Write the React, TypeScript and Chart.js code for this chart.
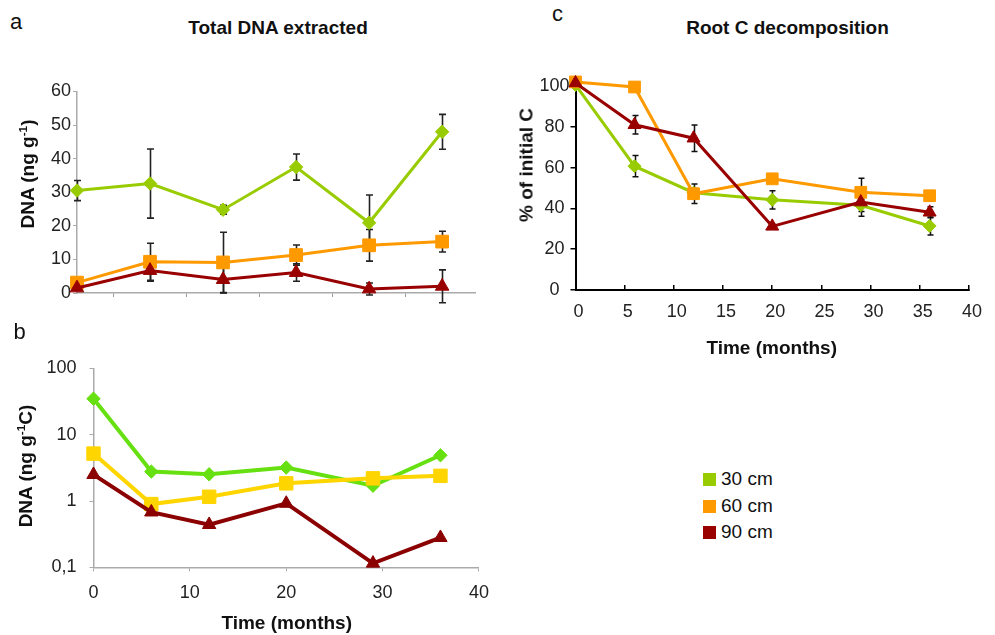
import React, { useEffect, useRef } from 'react';
import { Chart, registerables } from 'chart.js';

Chart.register(...registerables);

// ---------- data ----------
const months = [0, 6, 12, 20, 29, 36];
const seriesLabels = ['30 cm', '60 cm', '90 cm'];

// Panel a: Total DNA extracted (ng g-1), categories evenly spaced
const dnaA30 = [30.5, 32.6, 24.8, 37.5, 20.9, 48.0];
const dnaA60 = [3.1, 9.3, 9.1, 11.3, 14.2, 15.3];
const dnaA90 = [1.5, 6.7, 4.0, 6.1, 1.2, 2.0];
const errA30 = [3.0, 10.3, 1.3, 3.9, 8.3, 5.2];
const errA60 = [0.5, 5.5, 9.0, 3.0, 4.7, 3.1];
const errA90 = [0.5, 3.2, 4.0, 2.6, 1.8, 4.9];

// Panel b: DNA (ng g-1 C), log scale
const dnaB30 = [35, 2.78, 2.53, 3.2, 1.7, 4.9];
const dnaB60 = [5.2, 0.9, 1.16, 1.85, 2.2, 2.4];
const dnaB90 = [2.5, 0.68, 0.44, 0.92, 0.115, 0.28];
const yTicksB = [0.1, 1, 10, 100];
const yTickLabelsB = ['0,1', '1', '10', '100'];

// Panel c: Root C decomposition (% of initial C)
const rootC30 = [100.5, 60.7, 47.7, 44.2, 41.5, 31.4];
const rootC60 = [102, 99.5, 47.2, 54.5, 47.9, 46.2];
const rootC90 = [101.5, 81, 74.4, 31.2, 43.1, 38.1];
const errC30 = [0, 5.2, 2, 4.5, 3, 4.4];
const errC60 = [0, 0, 4.8, 0, 6.9, 2.5];
const errC90 = [0, 4.5, 6.5, 1, 7, 2.7];
const yTicksC = [0, 20, 40, 60, 80, 100];

const colorsAC = ['#99cc00', '#ff9900', '#990000'];
const colorsB = ['#66e010', '#ffd500', '#8b0000'];

const FONT = '"Liberation Sans", Arial, Helvetica, sans-serif';

const errorBarPlugin = {
  id: 'errorBars',
  beforeDatasetsDraw(chart: any, _args: any, opts: any) {
    const { ctx } = chart;
    const y = chart.scales.y;
    const cap = opts.cap ?? 3.5;
    ctx.save();
    ctx.strokeStyle = opts.color || '#000';
    ctx.lineWidth = opts.lineWidth || 1.5;
    chart.data.datasets.forEach((ds: any, di: number) => {
      const errs = ds.errors;
      if (!errs) return;
      const meta = chart.getDatasetMeta(di);
      meta.data.forEach((pt: any, i: number) => {
        const e = errs[i];
        if (!e) return;
        const v = ds.data[i].y;
        const px = Math.round(pt.x) + 0.5;
        const top = y.getPixelForValue(v + e);
        const bot = y.getPixelForValue(v - e);
        ctx.beginPath();
        ctx.moveTo(px, top);
        ctx.lineTo(px, bot);
        ctx.moveTo(px - cap, top);
        ctx.lineTo(px + cap, top);
        ctx.moveTo(px - cap, bot);
        ctx.lineTo(px + cap, bot);
        ctx.stroke();
      });
    });
    ctx.restore();
  },
};

const styles = ['rectRot', 'rect', 'triangle'];

function makeSet(
  label: string,
  xs: number[],
  ys: number[],
  color: string,
  style: string,
  radius: number,
  width: number,
  order: number,
  errors?: number[]
) {
  return {
    label,
    data: ys.map((v, i) => ({ x: xs[i], y: v })),
    borderColor: color,
    backgroundColor: color,
    pointBackgroundColor: color,
    pointBorderColor: color,
    pointBorderWidth: 1,
    pointStyle: style,
    pointRadius: radius,
    borderWidth: width,
    tension: 0,
    clip: false,
    order,
    errors,
  };
}

const baseOpts = {
  responsive: false,
  maintainAspectRatio: false,
  animation: false,
  events: [],
};

function Txt(props: {
  x: number;
  y: number;
  size: number;
  bold?: boolean;
  rotate?: boolean;
  align?: 'left' | 'center';
  children: React.ReactNode;
}) {
  const { x, y, size, bold, rotate, align = 'center', children } = props;
  const tx = align === 'center' ? '-50%' : '0';
  return (
    <div
      style={{
        position: 'absolute',
        left: x,
        top: y,
        fontFamily: FONT,
        fontSize: size,
        fontWeight: bold ? 700 : 400,
        lineHeight: 1,
        whiteSpace: 'nowrap',
        color: '#111',
        transform: `translate(${tx}, -50%)${rotate ? ' rotate(-90deg)' : ''}`,
        transformOrigin: 'center center',
      }}
    >
      {children}
    </div>
  );
}

const Sup = ({ children }: { children: React.ReactNode }) => (
  <span style={{ fontSize: '0.62em', verticalAlign: '0.55em', lineHeight: 0 }}>{children}</span>
);

export default function App() {
  const refA = useRef<HTMLCanvasElement>(null);
  const refB = useRef<HTMLCanvasElement>(null);
  const refC = useRef<HTMLCanvasElement>(null);

  useEffect(() => {
    Chart.defaults.font.family = FONT;
    Chart.defaults.color = '#222';

    const idx = months.map((_, i) => i);
    const catBounds = months.slice(1).map((_, i) => i + 0.5);

    const chartA = new Chart(refA.current as HTMLCanvasElement, {
      type: 'line',
      data: {
        datasets: [
          makeSet(seriesLabels[0], idx, dnaA30, colorsAC[0], styles[0], 6.7, 3, 3, errA30),
          makeSet(seriesLabels[1], idx, dnaA60, colorsAC[1], styles[1], 9, 3, 2, errA60),
          makeSet(seriesLabels[2], idx, dnaA90, colorsAC[2], styles[2], 7.8, 3, 1, errA90),
        ] as any,
      },
      options: {
        ...baseOpts,
        layout: { padding: { top: 31.5, right: 25, bottom: 17, left: 0 } },
        plugins: {
          legend: { display: false },
          tooltip: { enabled: false },
          errorBars: { cap: 3.5, color: '#222', lineWidth: 1.6 },
        } as any,
        scales: {
          x: {
            type: 'linear',
            min: 0,
            max: months.length - 1 + 0.45,
            afterBuildTicks: (s: any) => {
              s.ticks = catBounds.map((v) => ({ value: v }));
            },
            ticks: { display: false },
            grid: { drawOnChartArea: false, tickLength: 4, color: '#999' },
            border: { color: '#aaa', width: 1.5 },
            afterFit: (s: any) => {
              s.height = 10;
            },
          },
          y: {
            min: 0,
            max: 60,
            ticks: { stepSize: 10, padding: 2, font: { size: 18 }, color: '#222' },
            grid: { drawOnChartArea: false, tickLength: 4, color: '#aaa' },
            border: { color: '#aaa', width: 1.5 },
            afterFit: (s: any) => {
              s.width = 77;
            },
          },
        } as any,
      },
      plugins: [errorBarPlugin as any],
    });

    const chartB = new Chart(refB.current as HTMLCanvasElement, {
      type: 'line',
      data: {
        datasets: [
          makeSet(seriesLabels[0], months, dnaB30, colorsB[0], styles[0], 6.7, 4, 3),
          makeSet(seriesLabels[1], months, dnaB60, colorsB[1], styles[1], 9.5, 4, 2),
          makeSet(seriesLabels[2], months, dnaB90, colorsB[2], styles[2], 7.7, 4, 1),
        ] as any,
      },
      options: {
        ...baseOpts,
        layout: { padding: { top: 38.5, right: 21, bottom: 27.7, left: 0 } },
        plugins: { legend: { display: false }, tooltip: { enabled: false } },
        scales: {
          x: {
            type: 'linear',
            min: 0,
            max: 40,
            ticks: { stepSize: 10, padding: 11, font: { size: 18 }, color: '#222' },
            grid: { drawOnChartArea: false, tickLength: 4, color: '#aaa' },
            border: { color: '#aaa', width: 1.5 },
            afterFit: (s: any) => {
              s.height = 40;
            },
          },
          y: {
            type: 'logarithmic',
            min: 0.1,
            max: 100,
            afterBuildTicks: (s: any) => {
              s.ticks = yTicksB.map((v) => ({ value: v }));
            },
            ticks: {
              padding: 13,
              font: { size: 18 },
              color: '#222',
              callback: (v: any) => {
                const i = yTicksB.findIndex((t) => Math.abs(t - Number(v)) < 1e-9);
                return i >= 0 ? yTickLabelsB[i] : '';
              },
            },
            grid: { drawOnChartArea: false, tickLength: 4, color: '#aaa' },
            border: { color: '#aaa', width: 1.5 },
            afterFit: (s: any) => {
              s.width = 93.5;
            },
          },
        } as any,
      },
    });

    const chartC = new Chart(refC.current as HTMLCanvasElement, {
      type: 'line',
      data: {
        datasets: [
          makeSet(seriesLabels[0], months, rootC30, colorsAC[0], styles[0], 6.5, 3, 3, errC30),
          makeSet(seriesLabels[1], months, rootC60, colorsAC[1], styles[1], 8.3, 3, 2, errC60),
          makeSet(seriesLabels[2], months, rootC90, colorsAC[2], styles[2], 7.5, 3, 1, errC90),
        ] as any,
      },
      options: {
        ...baseOpts,
        layout: { padding: { top: 36, right: 17.5, bottom: 40, left: 0 } },
        plugins: {
          legend: { display: false },
          tooltip: { enabled: false },
          errorBars: { cap: 3, color: '#111', lineWidth: 1.5 },
        } as any,
        scales: {
          x: {
            type: 'linear',
            min: 0,
            max: 40,
            ticks: { stepSize: 5, padding: 16, labelOffset: 3, font: { size: 18 }, color: '#222' },
            grid: { drawOnChartArea: false, tickLength: -5, color: '#000', lineWidth: 1.5 },
            border: { color: '#000', width: 2 },
            afterFit: (s: any) => {
              s.height = 40;
            },
          },
          y: {
            min: 0,
            max: 100,
            ticks: {
              stepSize: 10,
              padding: 1,
              crossAlign: 'center',
              font: { size: 18 },
              color: '#222',
              callback: (v: any) => (yTicksC.includes(Number(v)) ? String(v) : ''),
            },
            grid: { drawOnChartArea: false, tickLength: 5, color: '#000', lineWidth: 1.5 },
            border: { color: '#000', width: 2 },
            afterFit: (s: any) => {
              s.width = 75.5;
            },
          },
        } as any,
      },
      plugins: [errorBarPlugin as any],
    });

    return () => {
      chartA.destroy();
      chartB.destroy();
      chartC.destroy();
    };
  }, []);

  return (
    <div
      style={{
        position: 'absolute',
        left: 0,
        top: 0,
        width: 995,
        height: 635,
        background: '#fff',
        overflow: 'hidden',
      }}
    >
      <canvas ref={refA} width={500} height={260} style={{ position: 'absolute', left: 0, top: 60 }} />
      <canvas ref={refB} width={500} height={305} style={{ position: 'absolute', left: 0, top: 330 }} />
      <canvas ref={refC} width={495} height={320} style={{ position: 'absolute', left: 500, top: 50 }} />

      <Txt x={10} y={22} size={22} align="left">a</Txt>
      <Txt x={13.5} y={331.5} size={22} align="left">b</Txt>
      <Txt x={552} y={13.6} size={22} align="left">c</Txt>

      <Txt x={278} y={27} size={19} bold>Total DNA extracted</Txt>
      <Txt x={787.5} y={27} size={19} bold>Root C decomposition</Txt>

      <Txt x={26.5} y={174} size={19} bold rotate>
        DNA (ng g<Sup>-1</Sup>)
      </Txt>
      <Txt x={25} y={465.5} size={19} bold rotate>
        DNA (ng g<Sup>-1</Sup>C)
      </Txt>
      <Txt x={525.5} y={164.5} size={19} bold rotate>
        % of initial C
      </Txt>
      <Txt x={286.7} y={621.7} size={19} bold>Time (months)</Txt>
      <Txt x={771.7} y={346.7} size={19} bold>Time (months)</Txt>

      {seriesLabels.map((lab, i) => (
        <div
          key={lab}
          style={{
            position: 'absolute',
            left: 703,
            top: [479, 506, 532][i] - 10,
            height: 20,
            display: 'flex',
            alignItems: 'center',
            fontFamily: FONT,
            fontSize: 19,
            color: '#111',
            whiteSpace: 'nowrap',
          }}
        >
          <span style={{ display: 'inline-block', width: 13, height: 13, background: colorsAC[i], marginRight: 5 }} />
          <span>{lab}</span>
        </div>
      ))}
    </div>
  );
}
